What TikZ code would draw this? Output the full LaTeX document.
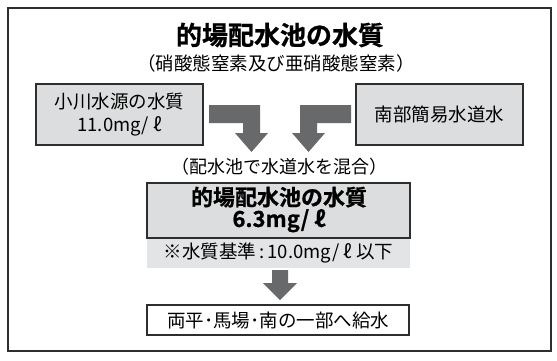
\documentclass[tikz,border=0pt]{standalone}
\usepackage{fontspec}
\newfontfamily\jp{Noto Sans CJK JP}[BoldFont={Noto Sans CJK JP Bold}]
\newfontfamily\jpheavy{Noto Sans CJK JP Bold}[FakeBold=0.8]
\definecolor{boxgray}{HTML}{DCDDDE}
\definecolor{bandgray}{HTML}{E3E4E5}
\definecolor{arrowgray}{HTML}{68696B}
\definecolor{linegray}{HTML}{2E2E2E}
\begin{document}
\begin{tikzpicture}[x=1pt,y=-1pt,
  txt/.style={inner sep=0pt, align=center, text=black, font=\jp\fontsize{18.5}{22}\selectfont},
  gbox/.style={txt, draw=linegray, line width=1.4pt, fill=boxgray},
  wbox/.style={txt, draw=linegray, line width=1.4pt, fill=white},
  band/.style={txt, fill=bandgray},
  blockarrow/.style={fill=arrowgray},
  frame/.style={draw=linegray, line width=1.1pt}
]
\useasboundingbox (0,0) rectangle (557,360);
\draw[frame] (8,8) rectangle (551,351);

\node[txt, font=\jpheavy\fontsize{26}{30}\selectfont] (title) at (280,35) {的場配水池の水質};
\node[txt, font=\jp\fontsize{18.5}{20}\selectfont] (sub) at (276,63) {（硝酸態窒素及び亜硝酸態窒素）};

\node[gbox, minimum width=167pt, minimum height=61pt] (src1) at (119.5,114.5) {小川水源の水質\\[0.5pt]11.0mg/ ℓ};
\node[gbox, minimum width=167pt, minimum height=61pt] (src2) at (439.5,114.5) {南部簡易水道水};

\node[txt, font=\jp\fontsize{18}{22}\selectfont] (mix) at (279.5,167) {（配水池で水道水を混合）};

\node[gbox, minimum width=263pt, minimum height=55pt] (pool) at (278.5,210.5) {};
\node[txt, font=\jpheavy\fontsize{22}{21.5}\selectfont] (poolname) at (279,209.5) {的場配水池の水質\\6.3mg/ ℓ};
\node[band, minimum width=263pt, minimum height=29pt, anchor=north] (std) at (pool.south) {※水質基準\kern3pt:\kern3pt10.0mg/ ℓ 以下};

\node[wbox, minimum width=262pt, minimum height=30pt] (dest) at (278,320) {両平･馬場･南の一部へ給水};

% left L-shaped arrow
\fill[blockarrow] (209,105) -- (260,105) -- (260,133) -- (268,133) -- (251.5,152)
  -- (235,133) -- (243,133) -- (243,123) -- (209,123) -- cycle;
% right L-shaped arrow
\fill[blockarrow] (351,105) -- (300,105) -- (300,133) -- (292,133) -- (308.5,152)
  -- (325,133) -- (317,133) -- (317,123) -- (351,123) -- cycle;
% down arrow
\fill[blockarrow] (272,270) -- (288,270) -- (288,283) -- (297,283) -- (280,300)
  -- (263,283) -- (272,283) -- cycle;
\end{tikzpicture}
\end{document}
